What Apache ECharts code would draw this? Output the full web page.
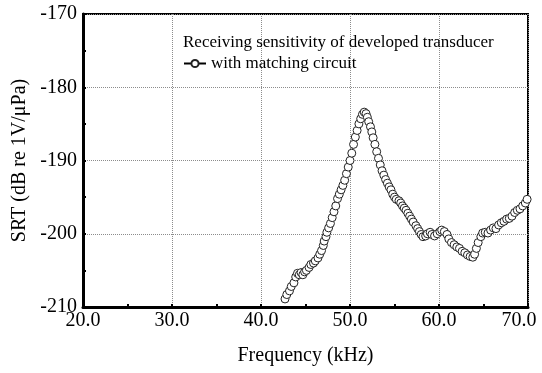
<!DOCTYPE html>
<html>
<head>
<meta charset="utf-8">
<script src="https://cdn.jsdelivr.net/npm/echarts@6/dist/echarts.min.js"></script>
<style>
  html, body { margin: 0; padding: 0; background: #fff; }
  #chart { width: 542px; height: 373px; }
</style>
</head>
<body>
<div id="chart"></div>
<script>
// Receiving sensitivity (SRT) of the transducer with matching circuit
const freqKHz = [
  42.7, 42.9, 43.2, 43.4, 43.7, 43.9, 44.1, 44.3, 44.5, 44.7,
  44.9, 45.1, 45.4, 45.6, 45.9, 46.1, 46.4, 46.6, 46.8, 47.0,
  47.1, 47.3, 47.4, 47.6, 47.8, 48.0, 48.2, 48.4, 48.6, 48.8,
  49.0, 49.2, 49.4, 49.6, 49.8, 50.0, 50.2, 50.4, 50.6, 50.8,
  51.0, 51.2, 51.4, 51.6, 51.8, 51.95, 52.1, 52.3, 52.45, 52.6,
  52.8, 53.0, 53.2, 53.4, 53.6, 53.8, 54.0, 54.2, 54.4, 54.6,
  54.8, 55.0, 55.2, 55.5, 55.7, 55.9, 56.1, 56.3, 56.5, 56.7,
  56.9, 57.1, 57.4, 57.6, 57.8, 58.0, 58.2, 58.5, 58.7, 59.0,
  59.2, 59.5, 59.8, 60.1, 60.3, 60.6, 60.9, 61.1, 61.4, 61.7,
  62.0, 62.3, 62.6, 62.9, 63.2, 63.5, 63.8, 64.0, 64.2, 64.4,
  64.7, 64.9, 65.2, 65.5, 65.8, 66.1, 66.4, 66.7, 67.0, 67.3,
  67.6, 67.9, 68.2, 68.5, 68.8, 69.1, 69.4, 69.7, 69.9
];
const srtDb = [
  -208.9, -208.3, -207.8, -207.2, -206.7, -205.9, -205.4, -205.6, -205.3, -205.6,
  -205.2, -205.0, -204.6, -204.2, -204.0, -203.7, -203.3, -202.8, -202.3, -201.6,
  -201.0, -200.4, -199.8, -199.2, -198.6, -197.8, -197.0, -196.2, -195.2, -194.6,
  -194.0, -193.4, -192.7, -191.8, -190.9, -190.0, -189.0, -187.8, -186.8, -185.9,
  -185.0, -184.3, -183.7, -183.4, -183.6, -184.1, -184.7, -185.4, -186.1, -186.9,
  -187.8, -188.8, -189.7, -190.6, -191.4, -192.0, -192.6, -193.1, -193.6, -194.0,
  -194.6, -195.0, -195.3, -195.5, -195.8, -196.2, -196.5, -196.8, -197.2, -197.6,
  -198.0, -198.4, -198.9, -199.3, -199.7, -200.1, -200.4, -200.3, -200.0, -199.8,
  -200.1, -200.3, -200.0, -199.7, -199.5, -199.7, -200.1, -200.7, -201.2, -201.5,
  -201.8, -202.0, -202.4, -202.6, -202.9, -203.1, -203.2, -202.8, -202.0, -201.2,
  -200.4, -199.9, -199.8, -199.9, -199.5, -199.2, -199.3, -198.8, -198.5, -198.3,
  -198.0, -197.9, -197.6, -197.1, -196.8, -196.6, -196.2, -195.8, -195.3
];
const xTicks = [20, 30, 40, 50, 60, 70];
const yTicks = [-210, -200, -190, -180, -170];
const captionText = 'Receiving sensitivity of developed transducer';
const seriesName = 'with matching circuit';

const serif = '"Liberation Serif", "DejaVu Serif", serif';
const ink = '#000';
const chart = echarts.init(document.getElementById('chart'), null, { renderer: 'canvas' });

const gridLine = { show: true, lineStyle: { color: '#8c8c8c', type: [1, 1], width: 1 } };

chart.setOption({
  backgroundColor: '#fff',
  animation: false,
  title: {
    text: captionText,
    left: 178, top: 29,
    textStyle: { fontFamily: serif, fontSize: 17, fontWeight: 'normal', color: ink }
  },
  legend: {
    left: 178, top: 50,
    itemWidth: 22, itemHeight: 9, itemGap: 4,
    textStyle: { fontFamily: serif, fontSize: 17, color: ink },
    data: [seriesName]
  },
  grid: {
    left: 83, right: 14, top: 14, bottom: 66,
    show: true, borderColor: '#000', borderWidth: 2
  },
  xAxis: {
    type: 'value', min: xTicks[0], max: xTicks[xTicks.length - 1], interval: 10,
    name: 'Frequency (kHz)', nameLocation: 'middle', nameGap: 39,
    nameTextStyle: { fontFamily: serif, fontSize: 20, color: ink },
    axisLine: { show: true, lineStyle: { color: '#000', width: 3 } },
    axisTick: { show: true, inside: true, length: 3, lineStyle: { color: '#000', width: 2 } },
    minorTick: { show: true, splitNumber: 2, length: 3, lineStyle: { color: '#000', width: 2 } },
    splitLine: gridLine,
    axisLabel: {
      fontFamily: serif, fontSize: 20, color: ink, margin: 4,
      formatter: v => v === xTicks[xTicks.length - 1] ? '{r|' + v.toFixed(1) + '}' : v.toFixed(1),
      rich: { r: { fontFamily: serif, fontSize: 20, color: ink, padding: [0, 18, 0, 0] } }
    }
  },
  yAxis: {
    type: 'value', min: yTicks[0], max: yTicks[yTicks.length - 1], interval: 10,
    name: 'SRT (dB re 1V/μPa)', nameLocation: 'middle', nameGap: 46,
    nameTextStyle: { fontFamily: serif, fontSize: 20, color: ink },
    axisLine: { show: true, lineStyle: { color: '#000', width: 3 } },
    axisTick: { show: true, inside: true, length: 3, lineStyle: { color: '#000', width: 2 } },
    minorTick: { show: true, splitNumber: 2, length: 3, lineStyle: { color: '#000', width: 2 } },
    splitLine: gridLine,
    axisLabel: { fontFamily: serif, fontSize: 20, color: ink, margin: 6 }
  },
  series: [{
    name: seriesName,
    type: 'line',
    data: freqKHz.map((f, i) => [f, srtDb[i]]),
    symbol: 'circle', symbolSize: 8, showAllSymbol: true,
    lineStyle: { color: '#000', width: 1 },
    itemStyle: { color: '#fff', borderColor: '#222', borderWidth: 1 },
    clip: true
  }]
});
</script>
</body>
</html>
